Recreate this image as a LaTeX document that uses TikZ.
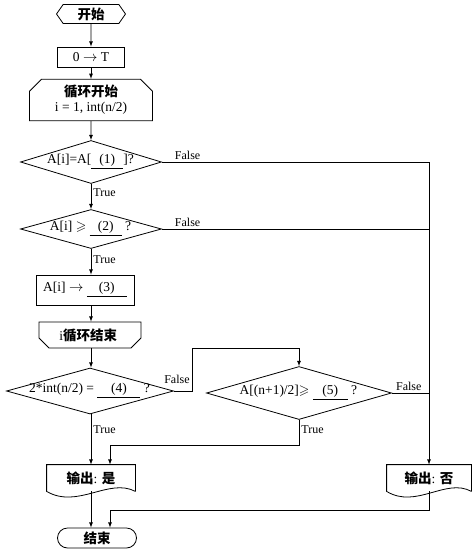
\documentclass[tikz,border=0pt]{standalone}
\usepackage{amssymb}
\usepackage{fontspec}
\setmainfont{Liberation Serif}
\newfontfamily\cjk{Noto Sans CJK SC}
\usetikzlibrary{shapes.geometric,shapes.misc,shapes.symbols,calc}
\newcommand{\blank}[2][32pt]{\underline{\makebox[#1]{(#2)}}}
\newcommand{\cond}[1]{\makebox[0pt]{#1}}
\newcommand{\zh}[1]{{\cjk\bfseries #1}}
\newcommand{\outwave}[1]{%
	\draw (#1.south east) -- (#1.north east) -- (#1.north west) -- (#1.south west) 
		.. controls ($ (#1.south west)!0.35!(#1.south east) + (0,18) $) 
		and ($ (#1.south west)!0.7!(#1.south east) + (0,-14) $) .. (#1.south east);}
\tikzset{
	startbox/.style={draw, signal, signal to=west and east, signal pointer angle=110, 
		minimum width=69, minimum height=19, inner sep=0},
	procbox/.style={draw, rectangle, minimum width=67, minimum height=20, inner sep=0},
	loopbox/.style={draw, chamfered rectangle, chamfered rectangle xsep=6pt, 
		chamfered rectangle ysep=6pt, inner sep=0, align=center},
	decision/.style={draw, diamond, inner sep=0, minimum width=141, minimum height=43},
	outbox/.style={rectangle, minimum width=88, minimum height=26, inner sep=0},
	endbox/.style={draw, rounded rectangle, minimum width=79, minimum height=20, inner sep=0},
	lab/.style={font=\fontsize{12}{13}\selectfont, inner sep=2pt}
}
\begin{document}
\begin{tikzpicture}[x=1pt, y=-1pt, >=latex, line width=0.8pt, 
	font=\fontsize{13.5}{15}\selectfont]
	\useasboundingbox (0,0) rectangle (473,551);
	\node [startbox] (1) at (91,14) 
		{ \zh{开始} };
	\node [procbox] (2) at (91,57) 
		{ 0 $ \to $ T };
	\node [loopbox, chamfered rectangle corners={north west, north east}, 
		minimum width=123, minimum height=36] (3) at (91,100) 
		{ \zh{循环开始} \\ i = 1,\ int(n/2) };
	\node [decision] (4) at (91,162) 
		{ \cond{ A[i]=A[\blank{1}]? } };
	\node [decision, minimum height=39] (5) at (91,229) 
		{ \cond{ A[i] $ \geqslant $ \blank{2} ? } };
	\node [procbox, minimum width=98, minimum height=30] (6) at (85,290) 
		{ A[i] $ \to $ \blank[40pt]{3} };
	\node [loopbox, chamfered rectangle corners={south west, south east}, 
		chamfered rectangle xsep=5pt, chamfered rectangle ysep=5pt, 
		minimum width=102, minimum height=26] (7) at (90,335) 
		{ i\zh{循环结束} };
	\node [decision, minimum width=167, minimum height=46] (8) at (90,391) 
		{ \cond{ 2*int(n/2) = \blank[43pt]{4} ? } };
	\node [decision, minimum width=185, minimum height=53] (9) at (299,393) 
		{ \cond{ A[(n+1)/2]$ \geqslant $ \blank[35pt]{5} ? } };
	\node [outbox] (10) at (91,478) 
		{ \zh{输出}: \zh{是} };
	\node [outbox, minimum width=84] (11) at (429,478) 
		{ \zh{输出}: \zh{否} };
	\node [endbox] (12) at (97,538) 
		{ \zh{结束} };
	\coordinate (c1) at (192,348);
	\coordinate (c2) at (110,445);
	\coordinate (c3) at (110,510);
	\outwave{10}
	\outwave{11}
	% main column
	\draw [ -> ] (1) to (2);
	\draw [ -> ] (2) to (3);
	\draw [ -> ] (3) to (4);
	\draw [ -> ] (4) to 
		node [lab, right, pos=0.35] {True} 
		(5);
	\draw [ -> ] (5.south) to 
		node [lab, right, pos=0.4] {True} 
		(5.south |- 6.north);
	\draw [ -> ] (5.south |- 6.south) to (7.north -| 5);
	\draw [ -> ] (7.south -| 5) to (8.north -| 5);
	\draw [ -> ] (8.south -| 5) to 
		node [lab, right, pos=0.3] {True} 
		(10);
	% false branches
	\draw [ -> ] (4.east) -| 
		node [lab, above right, pos=0.02] {False} 
		(11.north);
	\draw (5.east) to 
		node [lab, above right, pos=0.04] {False} 
		(5.east -| 11);
	\draw [ -> ] (8.east) -| 
		node [lab, above left, pos=0.5, yshift=5pt] {False} 
		(c1) -| (9.north);
	\draw (9.east) to 
		node [lab, above right, pos=0.05] {False} 
		(9.east -| 11);
	\draw [ -> ] (9.south) |- 
		node [lab, right, pos=0.2] {True} 
		(c2) -- (c2 |- 10.north);
	% to the end
	\draw [ -> ] (10) to (10 |- 12.north);
	\draw [ -> ] (11.south) |- (c3) -- (c3 |- 12.north);
\end{tikzpicture}
\end{document}
